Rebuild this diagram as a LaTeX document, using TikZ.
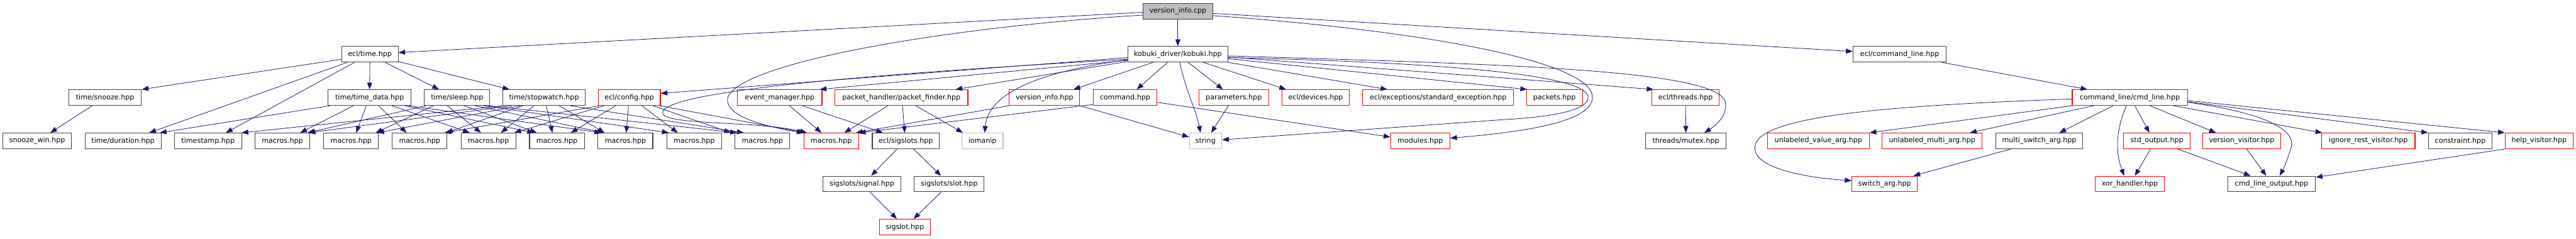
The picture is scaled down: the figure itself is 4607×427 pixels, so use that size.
\documentclass[tikz,border=0pt]{standalone}
\usepackage{fontspec}
\setmainfont{DejaVu Sans}
\usetikzlibrary{arrows.meta}
\definecolor{edgec}{HTML}{191970}
\definecolor{nbord}{HTML}{404040}
\definecolor{gbord}{HTML}{BFBFBF}
\definecolor{rbord}{HTML}{FF0000}
\definecolor{mainfill}{HTML}{BFBFBF}
\tikzset{
 box/.style={draw=nbord, line width=1.2pt, fill=white, rectangle, minimum height=28pt, inner sep=0pt, font=\fontsize{12.5}{14}\selectfont, text=black},
 redbox/.style={box, draw=rbord},
 graybox/.style={box, draw=gbord},
 mainbox/.style={box, fill=mainfill},
 e/.style={draw=edgec, line width=0.9pt, -{Triangle[length=12pt,width=9pt]}},
}
\newcommand\ed[4]{\draw[e] (#2,0 |- #1.south) -- (#4,0 |- #3.north);}
\begin{document}
\begin{tikzpicture}[x=1pt,y=-1pt]
\useasboundingbox (0,0) rectangle (4607,427);
% row 0
\node[mainbox, minimum width=125pt] (vcpp) at (2106.5,20) {version\_info.cpp};
% row 1
\node[box, minimum width=101pt] (etime) at (661.5,97) {ecl/time.hpp};
\node[box, minimum width=179pt] (kobuki) at (2106.5,97) {kobuki\_driver/kobuki.hpp};
\node[box, minimum width=167pt] (ecmd) at (3397.5,97) {ecl/command\_line.hpp};
% row 2
\node[box, minimum width=130pt] (snooze) at (188,174.5) {time/snooze.hpp};
\node[box, minimum width=148pt] (tdata) at (661,174.5) {time/time\_data.hpp};
\node[box, minimum width=117pt] (sleep) at (817.5,174.5) {time/sleep.hpp};
\node[box, minimum width=148pt] (stopw) at (973,174.5) {time/stopwatch.hpp};
\node[redbox, minimum width=111pt] (config) at (1125.5,174.5) {ecl/config.hpp};
\node[redbox, minimum width=151pt] (evm) at (1394.5,174.5) {event\_manager.hpp};
\node[redbox, minimum width=238pt] (pfind) at (1612,174.5) {packet\_handler/packet\_finder.hpp};
\node[redbox, minimum width=126pt] (vinfo) at (1868,174.5) {version\_info.hpp};
\node[redbox, minimum width=114pt] (command) at (2012,174.5) {command.hpp};
\node[redbox, minimum width=125pt] (params) at (2206.5,174.5) {parameters.hpp};
\node[redbox, minimum width=120pt] (devices) at (2353,174.5) {ecl/devices.hpp};
\node[redbox, minimum width=270pt] (stdexc) at (2572,174.5) {ecl/exceptions/standard\_exception.hpp};
\node[redbox, minimum width=100pt] (packets) at (2780,174.5) {packets.hpp};
\node[redbox, minimum width=121pt] (threads) at (3014.5,174.5) {ecl/threads.hpp};
\node[redbox, minimum width=206pt] (cmdline) at (3809,174.5) {command\_line/cmd\_line.hpp};
% row 3
\node[box, minimum width=123pt] (snoozewin) at (66.5,252) {snooze\_win.hpp};
\node[box, minimum width=136pt] (duration) at (220,252) {time/duration.hpp};
\node[box, minimum width=120pt] (tstamp) at (372,252) {timestamp.hpp};
\node[box, minimum width=98pt] (m1) at (505,252) {macros.hpp};
\node[box, minimum width=98pt] (m2) at (628,252) {macros.hpp};
\node[box, minimum width=98pt] (m3) at (750.5,252) {macros.hpp};
\node[box, minimum width=98pt] (m4) at (873.5,252) {macros.hpp};
\node[box, minimum width=98pt] (m5) at (996,252) {macros.hpp};
\node[box, minimum width=98pt] (m6) at (1118.5,252) {macros.hpp};
\node[box, minimum width=98pt] (m7) at (1241.5,252) {macros.hpp};
\node[box, minimum width=98pt] (m8) at (1363.5,252) {macros.hpp};
\node[redbox, minimum width=98pt] (m9) at (1486.5,252) {macros.hpp};
\node[box, minimum width=120pt] (sigslots) at (1620,252) {ecl/sigslots.hpp};
\node[graybox, minimum width=74pt] (iomanip) at (1757,252) {iomanip};
\node[graybox, minimum width=58pt] (string) at (2156,252) {string};
\node[redbox, minimum width=106pt] (modules) at (2540,252) {modules.hpp};
\node[box, minimum width=144pt] (mutex) at (3015,252) {threads/mutex.hpp};
\node[redbox, minimum width=182pt] (uva) at (3252,252) {unlabeled\_value\_arg.hpp};
\node[redbox, minimum width=179pt] (uma) at (3455.5,252) {unlabeled\_multi\_arg.hpp};
\node[box, minimum width=156pt] (msa) at (3647,252) {multi\_switch\_arg.hpp};
\node[redbox, minimum width=119pt] (stdout) at (3857.5,252) {std\_output.hpp};
\node[redbox, minimum width=140pt] (vvis) at (4009,252) {version\_visitor.hpp};
\node[redbox, minimum width=167pt] (irv) at (4235.5,252) {ignore\_rest\_visitor.hpp};
\node[box, minimum width=114pt] (constraint) at (4400,252) {constraint.hpp};
\node[redbox, minimum width=122pt] (helpvis) at (4541,252) {help\_visitor.hpp};
% row 4
\node[box, minimum width=139pt] (signal) at (1541.5,329) {sigslots/signal.hpp};
\node[box, minimum width=125pt] (slot) at (1697.5,329) {sigslots/slot.hpp};
\node[redbox, minimum width=117pt] (switcharg) at (3370.5,329) {switch\_arg.hpp};
\node[redbox, minimum width=124pt] (xor) at (3809,329) {xor\_handler.hpp};
\node[box, minimum width=157pt] (clo) at (4062.5,329) {cmd\_line\_output.hpp};
% row 5
\node[redbox, minimum width=91pt] (sigslot) at (1618.5,406) {sigslot.hpp};

% ---- edges from version_info.cpp
\draw[e] (vcpp.south) -- (kobuki.north);
\draw[e] (vcpp.west |- 0,22) -- (etime.east |- 0,94);
\draw[e] (vcpp.east |- 0,24) -- (ecmd.west |- 0,92);
\draw[e] (vcpp.west |- 0,27) .. controls (1700,48) and (1330,110) .. (1302,173) .. controls (1292,205) and (1360,225) .. (m9.north west);
\draw[e] (vcpp.east |- 0,28) .. controls (2550,55) and (2845,110) .. (2848,173) .. controls (2850,222) and (2700,238) .. (modules.east |- 0,247);
% ---- edges from kobuki.hpp
\draw[e] (kobuki.east |- 0,103) .. controls (2600,112) and (2836,135) .. (2840,173) .. controls (2843,200) and (2760,210) .. (2688,214) -- (string.east |- 0,250);
\draw[e] (kobuki.west |- 0,106) .. controls (1600,130) and (1200,160) .. (1185,200) .. controls (1178,225) and (1350,215) .. (1443,0 |- m9.north);
\draw[e] (kobuki.west |- 0,103) -- (config.east |- 0,167);
\draw[e] (kobuki.west |- 0,108) -- (1466,0 |- evm.north);
\draw[e] (kobuki.west |- 0,110) -- (1709,0 |- pfind.north);
\draw[e] (2062,0 |- kobuki.south) -- (1920,0 |- vinfo.north);
\draw[e] (2088,0 |- kobuki.south) -- (2033,0 |- command.north);
\draw[e] (kobuki.west |- 0,107) .. controls (1880,125) and (1768,160) .. (1761,0 |- iomanip.north);
\draw[e] (2110,0 |- kobuki.south) .. controls (2120,160) and (2140,200) .. (2147,0 |- string.north);
\draw[e] (2125,0 |- kobuki.south) -- (2187,0 |- params.north);
\draw[e] (2152,0 |- kobuki.south) -- (2300,0 |- devices.north);
\draw[e] (kobuki.south east) -- (2481,0 |- stdexc.north);
\draw[e] (kobuki.east |- 0,105) -- (2731,0 |- packets.north);
\draw[e] (kobuki.east |- 0,102) -- (2957,0 |- threads.north);
\draw[e] (kobuki.east |- 0,100) .. controls (2700,115) and (3060,125) .. (3085,180) .. controls (3092,205) and (3068,225) .. (3048,0 |- mutex.north);
% ---- ecl/time.hpp
\draw[e] (etime.west |- 0,106) -- (snooze.north east);
\ed{etime}{621}{duration}{267}
\ed{etime}{634}{tstamp}{404}
\draw[e] (etime.south) -- (tdata.north);
\ed{etime}{689}{sleep}{785}
\draw[e] (etime.east |- 0,110) -- (911,0 |- stopw.north);
\ed{snooze}{165}{snoozewin}{90}
% ---- time_data
\ed{tdata}{590}{duration}{286}
\ed{tdata}{632}{m1}{537}
\ed{tdata}{655}{m2}{637}
\ed{tdata}{677}{m3}{727}
\ed{tdata}{701}{m4}{840}
\ed{tdata}{724}{m5}{955}
\ed{tdata}{731}{m6}{1075}
% ---- sleep
\ed{sleep}{762}{m1}{550}
\ed{sleep}{775}{m2}{672}
\ed{sleep}{800}{m4}{860}
\ed{sleep}{830}{m5}{960}
\ed{sleep}{850}{m6}{1080}
\ed{sleep}{865}{m7}{1196}
\ed{sleep}{874}{m8}{1318}
% ---- stopwatch
\ed{stopw}{900}{tstamp}{432}
\ed{stopw}{915}{m1}{552}
\ed{stopw}{930}{m2}{675}
\ed{stopw}{935}{m3}{798}
\ed{stopw}{955}{m4}{896}
\ed{stopw}{977}{m5}{988}
\ed{stopw}{1000}{m6}{1081}
\ed{stopw}{1020}{m8}{1330}
% ---- config
\ed{config}{1072}{m3}{795}
\ed{config}{1080}{m4}{920}
\ed{config}{1101}{m5}{1021}
\ed{config}{1124}{m6}{1120}
\ed{config}{1148}{m7}{1212}
\ed{config}{1168}{m8}{1307}
\ed{config}{1180}{m9}{1439}
% ---- middle
\ed{evm}{1412}{m9}{1469}
\ed{evm}{1435}{sigslots}{1579}
\ed{pfind}{1588}{m9}{1510}
\ed{pfind}{1614}{sigslots}{1618}
\ed{pfind}{1638}{iomanip}{1722}
\ed{sigslots}{1604}{signal}{1558}
\ed{sigslots}{1634}{slot}{1683}
\ed{signal}{1556}{sigslot}{1604}
\ed{slot}{1683}{sigslot}{1634}
\draw[e] (vinfo.south west) -- (1531,0 |- m9.north);
\draw[e] (vinfo.south east) -- (string.west |- 0,245);
\draw[e] (command.west |- 0,187) -- (m9.north east);
\draw[e] (command.east |- 0,183) -- (modules.west |- 0,245);
\ed{params}{2197}{string}{2166}
\draw[e] (threads.south) -- (mutex.north);
% ---- command line
\ed{ecmd}{3473}{cmdline}{3733}
\draw[e] (cmdline.west |- 0,177) .. controls (3400,188) and (3150,205) .. (3139,260) .. controls (3130,300) and (3230,318) .. (switcharg.west |- 0,323);
\draw[e] (cmdline.south west) -- (uva.north east);
\ed{cmdline}{3744}{uma}{3523}
\ed{cmdline}{3779}{msa}{3683}
\draw[e] (3803,0 |- cmdline.south) .. controls (3785,230) and (3782,270) .. (3799,0 |- xor.north);
\ed{cmdline}{3818}{stdout}{3844}
\ed{cmdline}{3845}{vvis}{3963}
\ed{cmdline}{3887}{irv}{4153}
\draw[e] (cmdline.east |- 0,183) .. controls (4040,200) and (4110,230) .. (4097,265) .. controls (4090,290) and (4082,305) .. (4077,0 |- clo.north);
\draw[e] (cmdline.east |- 0,182) -- (constraint.north west);
\draw[e] (cmdline.east |- 0,180) -- (helpvis.north west);
\draw[e] (helpvis.south west) -- (clo.east |- 0,317);
\ed{stdout}{3846}{xor}{3818}
\ed{stdout}{3895}{clo}{4025}
\ed{vvis}{4018}{clo}{4053}
\ed{msa}{3596}{switcharg}{3422}
\end{tikzpicture}
\end{document}
